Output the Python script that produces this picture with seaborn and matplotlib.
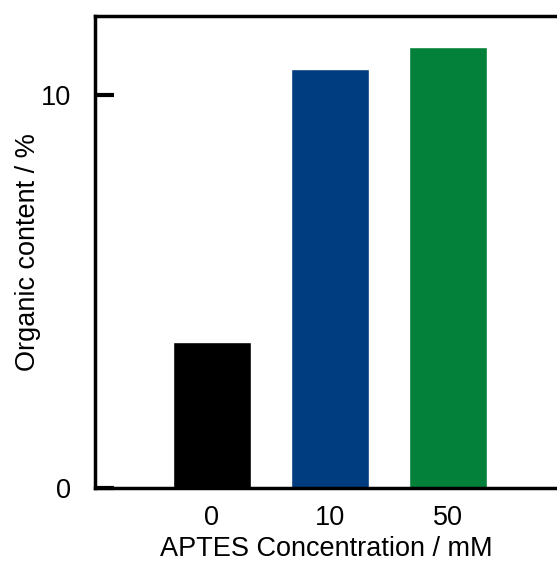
import pandas as pd
import matplotlib.pyplot as plt
import seaborn as sns

# APTES concentration vs organic content
concentrations = ['0', '10', '50']
organic_content = [3.7, 10.66, 11.2]
bar_colors = ['#000000', '#003c80', '#03803a']

df = pd.DataFrame({'conc': concentrations, 'organic': organic_content})

sns.set_style('ticks')
plt.rcParams['font.family'] = ['Liberation Sans', 'DejaVu Sans']
plt.rcParams['text.color'] = 'black'
plt.rcParams['axes.labelcolor'] = 'black'
plt.rcParams['xtick.color'] = 'black'
plt.rcParams['ytick.color'] = 'black'

fig = plt.figure(figsize=(5.57, 5.62), dpi=100)
ax = fig.add_axes([0.1706, 0.1317, 0.8294, 0.8398])

sns.barplot(data=df, x='conc', y='organic', hue='conc', palette=bar_colors,
            width=0.66, legend=False, ax=ax, saturation=1)

ax.set_xlim(-0.99, 2.92)
ax.set_ylim(0, 12)
ax.set_yticks([0, 10])
ax.set_xlabel('APTES Concentration / mM', fontsize=19.5, labelpad=4)
ax.set_ylabel('Organic content / %', fontsize=19.5, labelpad=0)

ax.tick_params(axis='y', direction='in', length=14, width=3, pad=17, labelsize=19.5)
ax.tick_params(axis='x', length=0, pad=12, labelsize=19.5)

for side in ['left', 'top', 'bottom']:
    ax.spines[side].set_linewidth(2.5)
    ax.spines[side].set_color('black')
ax.spines['right'].set_visible(False)

fig.savefig('out.png', dpi=100)
